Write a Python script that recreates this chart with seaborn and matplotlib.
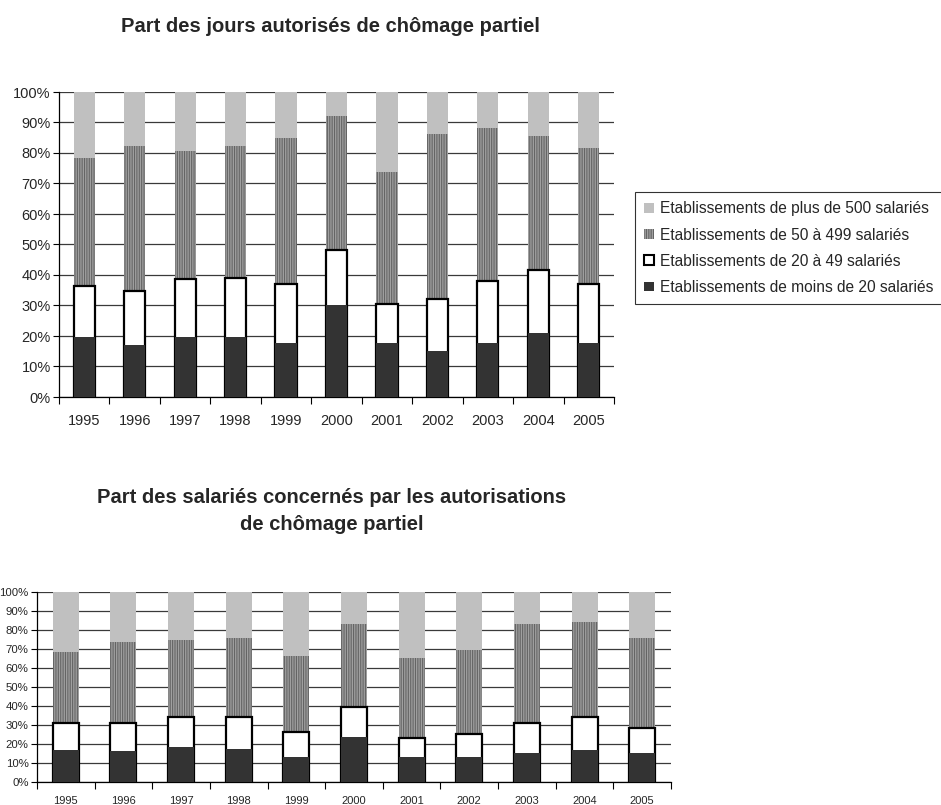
import numpy as np
import pandas as pd
import matplotlib
matplotlib.use("Agg")
import matplotlib.pyplot as plt
import seaborn as sns
from matplotlib.patches import Patch
from matplotlib.ticker import FixedLocator, PercentFormatter

years = ["1995", "1996", "1997", "1998", "1999", "2000", "2001", "2002", "2003", "2004", "2005"]

# Top chart: part des jours autorisés (%), per size class
jours_moins20 = [19.7, 17.0, 19.7, 19.7, 17.7, 30.1, 17.7, 15.1, 17.7, 21.1, 17.7]
jours_20_49 = [16.7, 17.7, 18.9, 19.3, 19.5, 18.1, 12.7, 16.9, 20.2, 20.5, 19.5]
jours_50_499 = [42.0, 47.7, 41.9, 43.4, 47.8, 44.0, 43.4, 54.3, 50.4, 44.1, 44.5]
jours_plus500 = [21.6, 17.6, 19.5, 17.6, 15.0, 7.8, 26.2, 13.7, 11.7, 14.3, 18.3]

# Bottom chart: part des salariés concernés (%)
sal_moins20 = [17.1, 16.2, 18.5, 17.3, 12.9, 23.8, 13.2, 13.2, 15.3, 17.1, 15.3]
sal_20_49 = [13.7, 14.6, 15.5, 16.7, 13.5, 15.5, 10.2, 12.0, 15.5, 16.9, 13.2]
sal_50_499 = [37.7, 43.1, 40.8, 41.7, 40.0, 44.0, 42.1, 44.3, 52.5, 50.2, 47.2]
sal_plus500 = [31.5, 26.1, 25.2, 24.3, 33.6, 16.7, 34.5, 30.5, 16.7, 15.8, 24.3]

labels = ["Etablissements de plus de 500 salariés",
          "Etablissements de 50 à 499 salariés",
          "Etablissements de 20 à 49 salariés",
          "Etablissements de moins de 20 salariés"]

sns.set_theme(style="white")
plt.rcParams['font.family'] = ['Liberation Sans', 'DejaVu Sans']
plt.rcParams['hatch.linewidth'] = 0.8

C_LIGHT = "#c0c0c0"
C_HATCH_FACE = "#a0a0a0"
C_HATCH_LINE = "#646464"
C_DARK = "#333333"

fig = plt.figure(figsize=(9.41, 8.05), dpi=100)
W, H = 941, 805
ax1 = fig.add_axes([59 / W, 1 - 397 / H, (614 - 59) / W, (397 - 92) / H])
ax2 = fig.add_axes([37 / W, 1 - 782 / H, (671 - 37) / W, (782 - 592) / H])


def draw(ax, m20, m49, m499, p500, width, tickfs, xfs, xpad):
    a = np.array(m20)
    b = a + np.array(m49)
    c = b + np.array(m499)
    d = c + np.array(p500)
    df = pd.DataFrame({"year": years, "a": a, "b": b, "c": c, "d": d})
    sns.barplot(data=df, x="year", y="d", color=C_LIGHT, width=width, saturation=1,
                edgecolor=C_LIGHT, linewidth=0, ax=ax, zorder=2)
    sns.barplot(data=df, x="year", y="c", color=C_HATCH_FACE, width=width, saturation=1,
                edgecolor=C_HATCH_LINE, linewidth=0, hatch="|||||||", ax=ax, zorder=3)
    sns.barplot(data=df, x="year", y="b", color="white", width=width, saturation=1,
                edgecolor="black", linewidth=1.6, ax=ax, zorder=4)
    sns.barplot(data=df, x="year", y="a", color=C_DARK, width=width, saturation=1,
                edgecolor=C_DARK, linewidth=0, ax=ax, zorder=5)
    ax.set_xlim(-0.5, len(years) - 0.5)
    ax.set_ylim(0, 100)
    ax.set_yticks(np.arange(0, 101, 10))
    ax.yaxis.set_major_formatter(PercentFormatter(decimals=0))
    ax.yaxis.grid(True, color="#3a3a3a", linewidth=0.9, zorder=0)
    ax.set_axisbelow(True)
    ax.xaxis.set_minor_locator(FixedLocator(np.arange(-0.5, len(years), 1.0)))
    ax.tick_params(axis="x", which="major", length=0, pad=xpad, labelsize=xfs)
    ax.tick_params(axis="x", which="minor", length=5, width=0.8, color="black", direction="out", bottom=True)
    ax.tick_params(axis="y", which="major", length=4, width=0.8, color="black", direction="out", left=True,
                   labelsize=tickfs, pad=2)
    for s in ["top", "right"]:
        ax.spines[s].set_visible(False)
    for s in ["left", "bottom"]:
        ax.spines[s].set_color("black")
        ax.spines[s].set_linewidth(0.9)
    ax.set_xlabel("")
    ax.set_ylabel("")


draw(ax1, jours_moins20, jours_20_49, jours_50_499, jours_plus500, 0.42, 10.5, 10.5, 12)
draw(ax2, sal_moins20, sal_20_49, sal_50_499, sal_plus500, 0.45, 8.2, 8, 10)

fig.text(330 / W, 1 - 26 / H, "Part des jours autorisés de chômage partiel",
         ha="center", va="center", fontsize=14.5, fontweight="bold")
fig.text(332 / W, 1 - 497 / H, "Part des salariés concernés par les autorisations",
         ha="center", va="center", fontsize=14.5, fontweight="bold")
fig.text(332 / W, 1 - 525 / H, "de chômage partiel",
         ha="center", va="center", fontsize=14.5, fontweight="bold")

handles = [Patch(facecolor=C_LIGHT, edgecolor=C_LIGHT, linewidth=0),
           Patch(facecolor=C_HATCH_FACE, edgecolor=C_HATCH_LINE, linewidth=0, hatch="|||||||"),
           Patch(facecolor="white", edgecolor="black", linewidth=1.5),
           Patch(facecolor=C_DARK, edgecolor=C_DARK, linewidth=0)]
leg = fig.legend(handles, labels, loc="upper left", bbox_to_anchor=(635 / W, 1 - 192 / H),
                 frameon=True, fancybox=False, edgecolor="black", fontsize=11.2,
                 handlelength=0.6, handleheight=0.6, handletextpad=0.4,
                 labelspacing=0.72, borderpad=0.6, borderaxespad=0)
leg.get_frame().set_linewidth(0.8)

fig.savefig("out.png", dpi=100)
